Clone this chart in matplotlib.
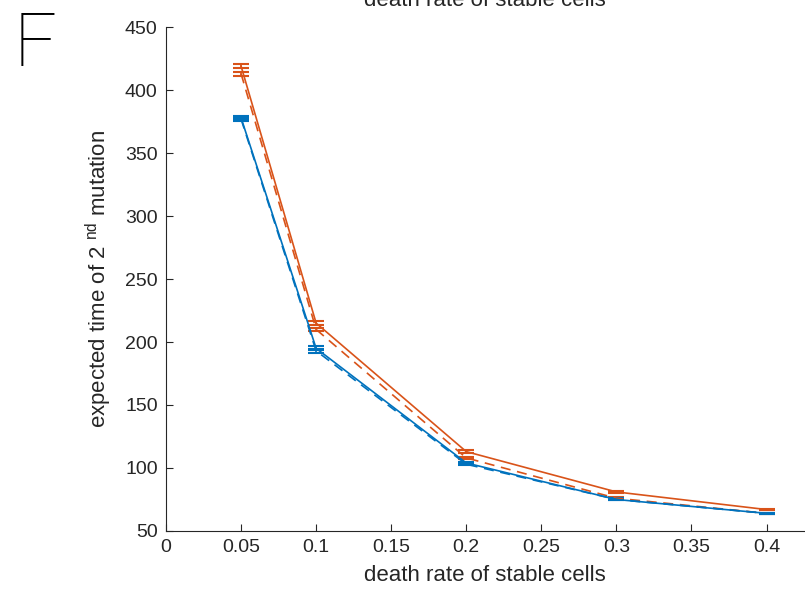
import numpy as np
import matplotlib
matplotlib.use("Agg")
import matplotlib.pyplot as plt

plt.rcParams['font.family'] = ['Liberation Sans', 'DejaVu Sans']
plt.rcParams['mathtext.fontset'] = 'custom'
plt.rcParams['mathtext.rm'] = 'Liberation Sans'

death_rate = [0.05, 0.1, 0.2, 0.3, 0.4]

blue_solid = [378, 195, 104, 75, 64]
blue_solid_err = [1.2, 1.5, 1.0, 0.8, 0.6]
blue_dash = [377, 193, 103, 75, 64]
blue_dash_err = [1.2, 1.5, 1.0, 0.8, 0.6]
orange_solid = [419, 215, 113, 81, 67]
orange_solid_err = [1.5, 1.5, 1.0, 0.8, 0.6]
orange_dash = [413, 210, 108, 76, 64]
orange_dash_err = [1.5, 1.5, 1.0, 0.8, 0.6]

blue = '#0072BD'
orange = '#D95319'

fig = plt.figure(figsize=(8.05, 6.01), dpi=100)
ax = fig.add_axes([0.2062, 0.1165, 0.7926, 0.8385])

kw = dict(capsize=6, elinewidth=1.2, capthick=1.5, linewidth=1.2)
ax.errorbar(death_rate, orange_solid, yerr=orange_solid_err, color=orange, linestyle='-', **kw)
ax.errorbar(death_rate, orange_dash, yerr=orange_dash_err, color=orange, linestyle=(0, (6, 4)), **kw)
ax.errorbar(death_rate, blue_solid, yerr=blue_solid_err, color=blue, linestyle='-', **kw)
ax.errorbar(death_rate, blue_dash, yerr=blue_dash_err, color=blue, linestyle=(0, (6, 4)), **kw)

ax.set_xlim(0, 0.425)
ax.set_ylim(50, 450)
xt = [0, 0.05, 0.1, 0.15, 0.2, 0.25, 0.3, 0.35, 0.4]
ax.set_xticks(xt)
ax.set_xticklabels(['0', '0.05', '0.1', '0.15', '0.2', '0.25', '0.3', '0.35', '0.4'])
ax.set_yticks(np.arange(50, 451, 50))
ax.spines['top'].set_visible(False)
ax.spines['right'].set_visible(False)
for s in ['left', 'bottom']:
    ax.spines[s].set_color('#262626')
    ax.spines[s].set_linewidth(0.8)
ax.tick_params(direction='in', length=5, width=0.8, colors='#262626', labelsize=14, pad=6)

ax.set_xlabel('death rate of stable cells', fontsize=16, color='#262626', labelpad=6)
ax.set_ylabel(r'expected time of 2 $^{\rm nd}$ mutation', fontsize=16, color='#262626', labelpad=8)
# title sits mostly above the figure edge, as in the original export
ax.text(0.5, 1.041, 'death rate of stable cells', transform=ax.transAxes,
        fontsize=16, color='#262626', ha='center', va='baseline')

fig.text(0.017, 0.983, 'F', fontsize=54, fontweight='light', va='top', ha='left',
         family=['Roboto', 'DejaVu Sans'])

fig.savefig('out.png', dpi=100)
